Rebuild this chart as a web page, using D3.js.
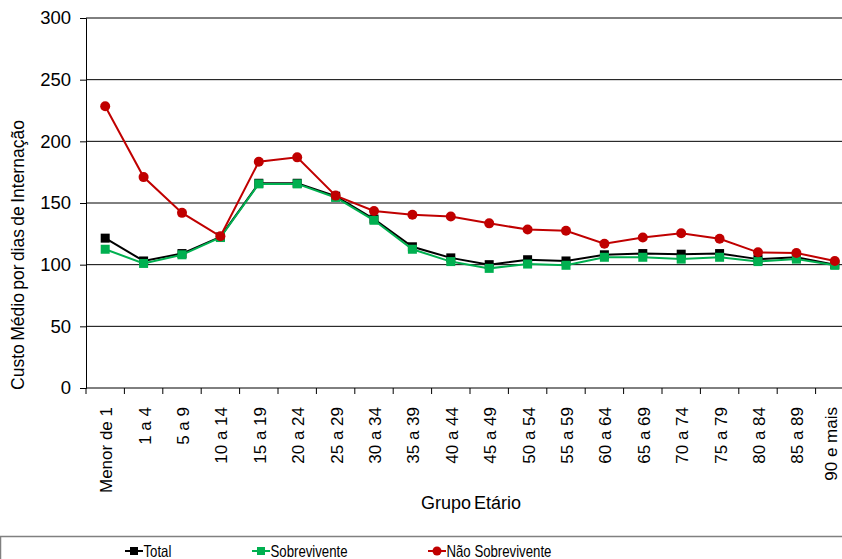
<!DOCTYPE html>
<html>
<head>
<meta charset="utf-8">
<script src="https://cdn.jsdelivr.net/npm/d3@7"></script>
<style>
  html, body { margin: 0; padding: 0; background: #fff; }
  svg { display: block; font-family: "Liberation Sans", Arial, sans-serif; }
</style>
</head>
<body>
<svg id="chart" width="842" height="559"></svg>
<script>
// Age groups (x categories)
const categories = ["Menor de 1", "1 a 4", "5 a 9", "10 a 14", "15 a 19", "20 a 24", "25 a 29",
  "30 a 34", "35 a 39", "40 a 44", "45 a 49", "50 a 54", "55 a 59", "60 a 64", "65 a 69",
  "70 a 74", "75 a 79", "80 a 84", "85 a 89", "90 e mais"];

// Average cost per day of hospitalisation
const total = [121.5, 103, 109, 122.5, 166, 166, 155.5, 137, 114.5, 105.5, 100, 104, 103,
  108, 109, 108.5, 109, 104.5, 106, 100];
const sobrevivente = [112.5, 101, 108, 122, 165.5, 165.5, 154.5, 136, 112.5, 102.5, 97, 100.5, 99.5,
  106, 106, 104.5, 106, 102.5, 104.5, 99.5];
const naoSobrevivente = [228.5, 171, 142, 123, 183.5, 187, 156, 143.5, 140.5, 139, 133.5, 128.5, 127.5,
  117, 122, 125.5, 121, 110, 109.5, 103];

const yTicks = [0, 50, 100, 150, 200, 250, 300];

const series = [
  { name: "Total", values: total, color: "#000000", marker: "square" },
  { name: "Sobrevivente", values: sobrevivente, color: "#00B050", marker: "square" },
  { name: "Não Sobrevivente", values: naoSobrevivente, color: "#C00000", marker: "circle" }
];

const svg = d3.select("#chart");
const plotLeft = 86, plotRight = 854, plotTop = 18, plotBottom = 388;

const x = d3.scaleBand().domain(categories).range([plotLeft, plotRight]);
const y = d3.scaleLinear().domain([0, 300]).range([plotBottom, plotTop]);
const cx = d => x(d) + x.bandwidth() / 2;

// Horizontal gridlines
svg.append("g").selectAll("line").data(yTicks.filter(t => t > 0)).join("line")
  .attr("x1", plotLeft).attr("x2", 842)
  .attr("y1", d => y(d)).attr("y2", d => y(d))
  .attr("stroke", "#000").attr("stroke-width", 1);

// Y axis
const yAxis = svg.append("g").attr("transform", `translate(${plotLeft},0)`)
  .call(d3.axisLeft(y).tickValues(yTicks).tickSize(6).tickPadding(9));
yAxis.select(".domain").attr("stroke", "#000");
yAxis.selectAll(".tick line").attr("stroke", "#000");
yAxis.selectAll(".tick text").attr("font-size", 18.5).attr("fill", "#000")
  .attr("font-family", "Liberation Sans, Arial, sans-serif");

// X axis with tick marks at category boundaries
svg.append("line").attr("x1", plotLeft).attr("x2", 842).attr("y1", plotBottom).attr("y2", plotBottom)
  .attr("stroke", "#000");
svg.append("g").selectAll("line").data(categories).join("line")
  .attr("x1", d => x(d) + x.bandwidth()).attr("x2", d => x(d) + x.bandwidth())
  .attr("y1", plotBottom).attr("y2", plotBottom + 6).attr("stroke", "#000");
svg.append("line").attr("x1", plotLeft).attr("x2", plotLeft).attr("y1", plotBottom).attr("y2", plotBottom + 6)
  .attr("stroke", "#000");

// Rotated category labels (the last one is kept inside the right edge)
svg.append("g").selectAll("text").data(categories).join("text")
  .attr("transform", d => `translate(${Math.min(cx(d) + 1, 831)},${plotBottom + 19}) rotate(-90)`)
  .attr("text-anchor", "end").attr("dy", "0.35em")
  .attr("font-size", 17).attr("fill", "#000")
  .text(d => d);

// Axis titles
svg.append("text").attr("x", 471).attr("y", 509).attr("text-anchor", "middle")
  .attr("font-size", 18).attr("fill", "#000").attr("word-spacing", -2).text("Grupo Etário");
svg.append("text").attr("transform", "translate(24,255) rotate(-90)")
  .attr("text-anchor", "middle").attr("font-size", 17.5).attr("fill", "#000")
  .attr("word-spacing", -1.5)
  .text("Custo Médio por dias de Internação");

// Lines and markers
const line = d3.line().x((d, i) => cx(categories[i])).y(d => y(d));
series.forEach(s => {
  const g = svg.append("g");
  g.append("path").datum(s.values).attr("d", line)
    .attr("fill", "none").attr("stroke", s.color).attr("stroke-width", 2);
  if (s.marker === "square") {
    g.selectAll("rect").data(s.values).join("rect")
      .attr("x", (d, i) => cx(categories[i]) - 4.5).attr("y", d => y(d) - 4.5)
      .attr("width", 9).attr("height", 9).attr("fill", s.color);
  } else {
    g.selectAll("circle").data(s.values).join("circle")
      .attr("cx", (d, i) => cx(categories[i])).attr("cy", d => y(d))
      .attr("r", 5).attr("fill", s.color);
  }
});

// Legend
svg.append("rect").attr("x", 0.5).attr("y", 536.5).attr("width", 860).attr("height", 40)
  .attr("fill", "#fff").attr("stroke", "#808080").attr("stroke-width", 1.5);
const legendPos = [125, 252, 428];
series.forEach((s, i) => {
  const g = svg.append("g").attr("transform", `translate(${legendPos[i]},551)`);
  g.append("line").attr("x1", 0).attr("x2", 18).attr("y1", 0).attr("y2", 0)
    .attr("stroke", s.color).attr("stroke-width", 2);
  if (s.marker === "square") {
    g.append("rect").attr("x", 5).attr("y", -4).attr("width", 8).attr("height", 8).attr("fill", s.color);
  } else {
    g.append("circle").attr("cx", 9).attr("cy", 0).attr("r", 4.5).attr("fill", s.color);
  }
  g.append("text").attr("transform", "translate(18.5,0) scale(0.8,1)")
    .attr("dy", "0.36em")
    .attr("font-size", 16.5).attr("fill", "#000")
    .text(s.name);
});
</script>
</body>
</html>
